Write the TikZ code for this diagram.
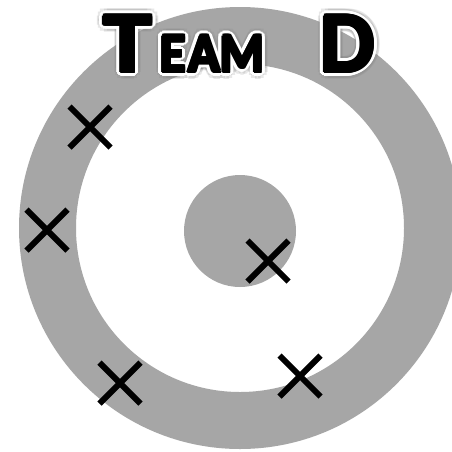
\documentclass[tikz,border=0pt]{standalone}
\usepackage{fontspec}
\setmainfont{Carlito}
\usetikzlibrary{shapes.misc,calc}
\definecolor{ringgray}{HTML}{A6A6A6}
\tikzset{
  xmark/.style={cross out, draw=black, line width=6pt, minimum size=35pt, inner sep=0pt},
  ringfill/.style={fill=ringgray, even odd rule},
  glyph/.style={anchor=base west, inner sep=0pt},
}
\newcommand{\bigf}{\bfseries\fontsize{87}{87}\selectfont}
\newcommand{\smallf}{\bfseries\fontsize{56}{56}\selectfont}
\newcommand{\titleglyphs}[1]{%
  \node[glyph,#1,font=\bigf,xscale=1.14] at (103,72) {T};
  \node[glyph,#1,font=\smallf,xscale=0.95] at (160,72) {E};
  \node[glyph,#1,font=\smallf,xscale=0.95] at (188,72) {A};
  \node[glyph,#1,font=\smallf,xscale=0.9] at (220,72) {M};
  \node[glyph,#1,font=\bigf] at (320,72) {D};
}
\begin{document}
\begin{tikzpicture}[x=1pt,y=-1pt]
\useasboundingbox (0,0) rectangle (452,451);
\clip (0,0) rectangle (452,451);
\fill[white] (0,0) rectangle (452,451);
% ring and centre disk
\path[ringfill] (240,228) circle (221pt) (240,228) circle (164pt);
\fill[ringgray] (240,231) circle (56pt);
% crosses
\node[xmark] (x1) at (90,127) {};
\node[xmark] (x2) at (47,230) {};
\node[xmark] (x3) at (268,261) {};
\node[xmark] (x4) at (120,383) {};
\node[xmark] (x5) at (300,376) {};
% title: soft gray shadow, white glow, thickened black letters
\foreach \a in {0,30,...,330}{
  \begin{scope}[shift={(\a:7pt)}]\titleglyphs{text=gray,opacity=0.18}\end{scope}
}
\foreach \a in {0,20,...,340}{
  \begin{scope}[shift={(\a:4.5pt)}]\titleglyphs{text=white}\end{scope}
}
\foreach \a in {0,45,...,315}{
  \begin{scope}[shift={(\a:1.6pt)}]\titleglyphs{text=black}\end{scope}
}
\titleglyphs{text=black}
\end{tikzpicture}
\end{document}
